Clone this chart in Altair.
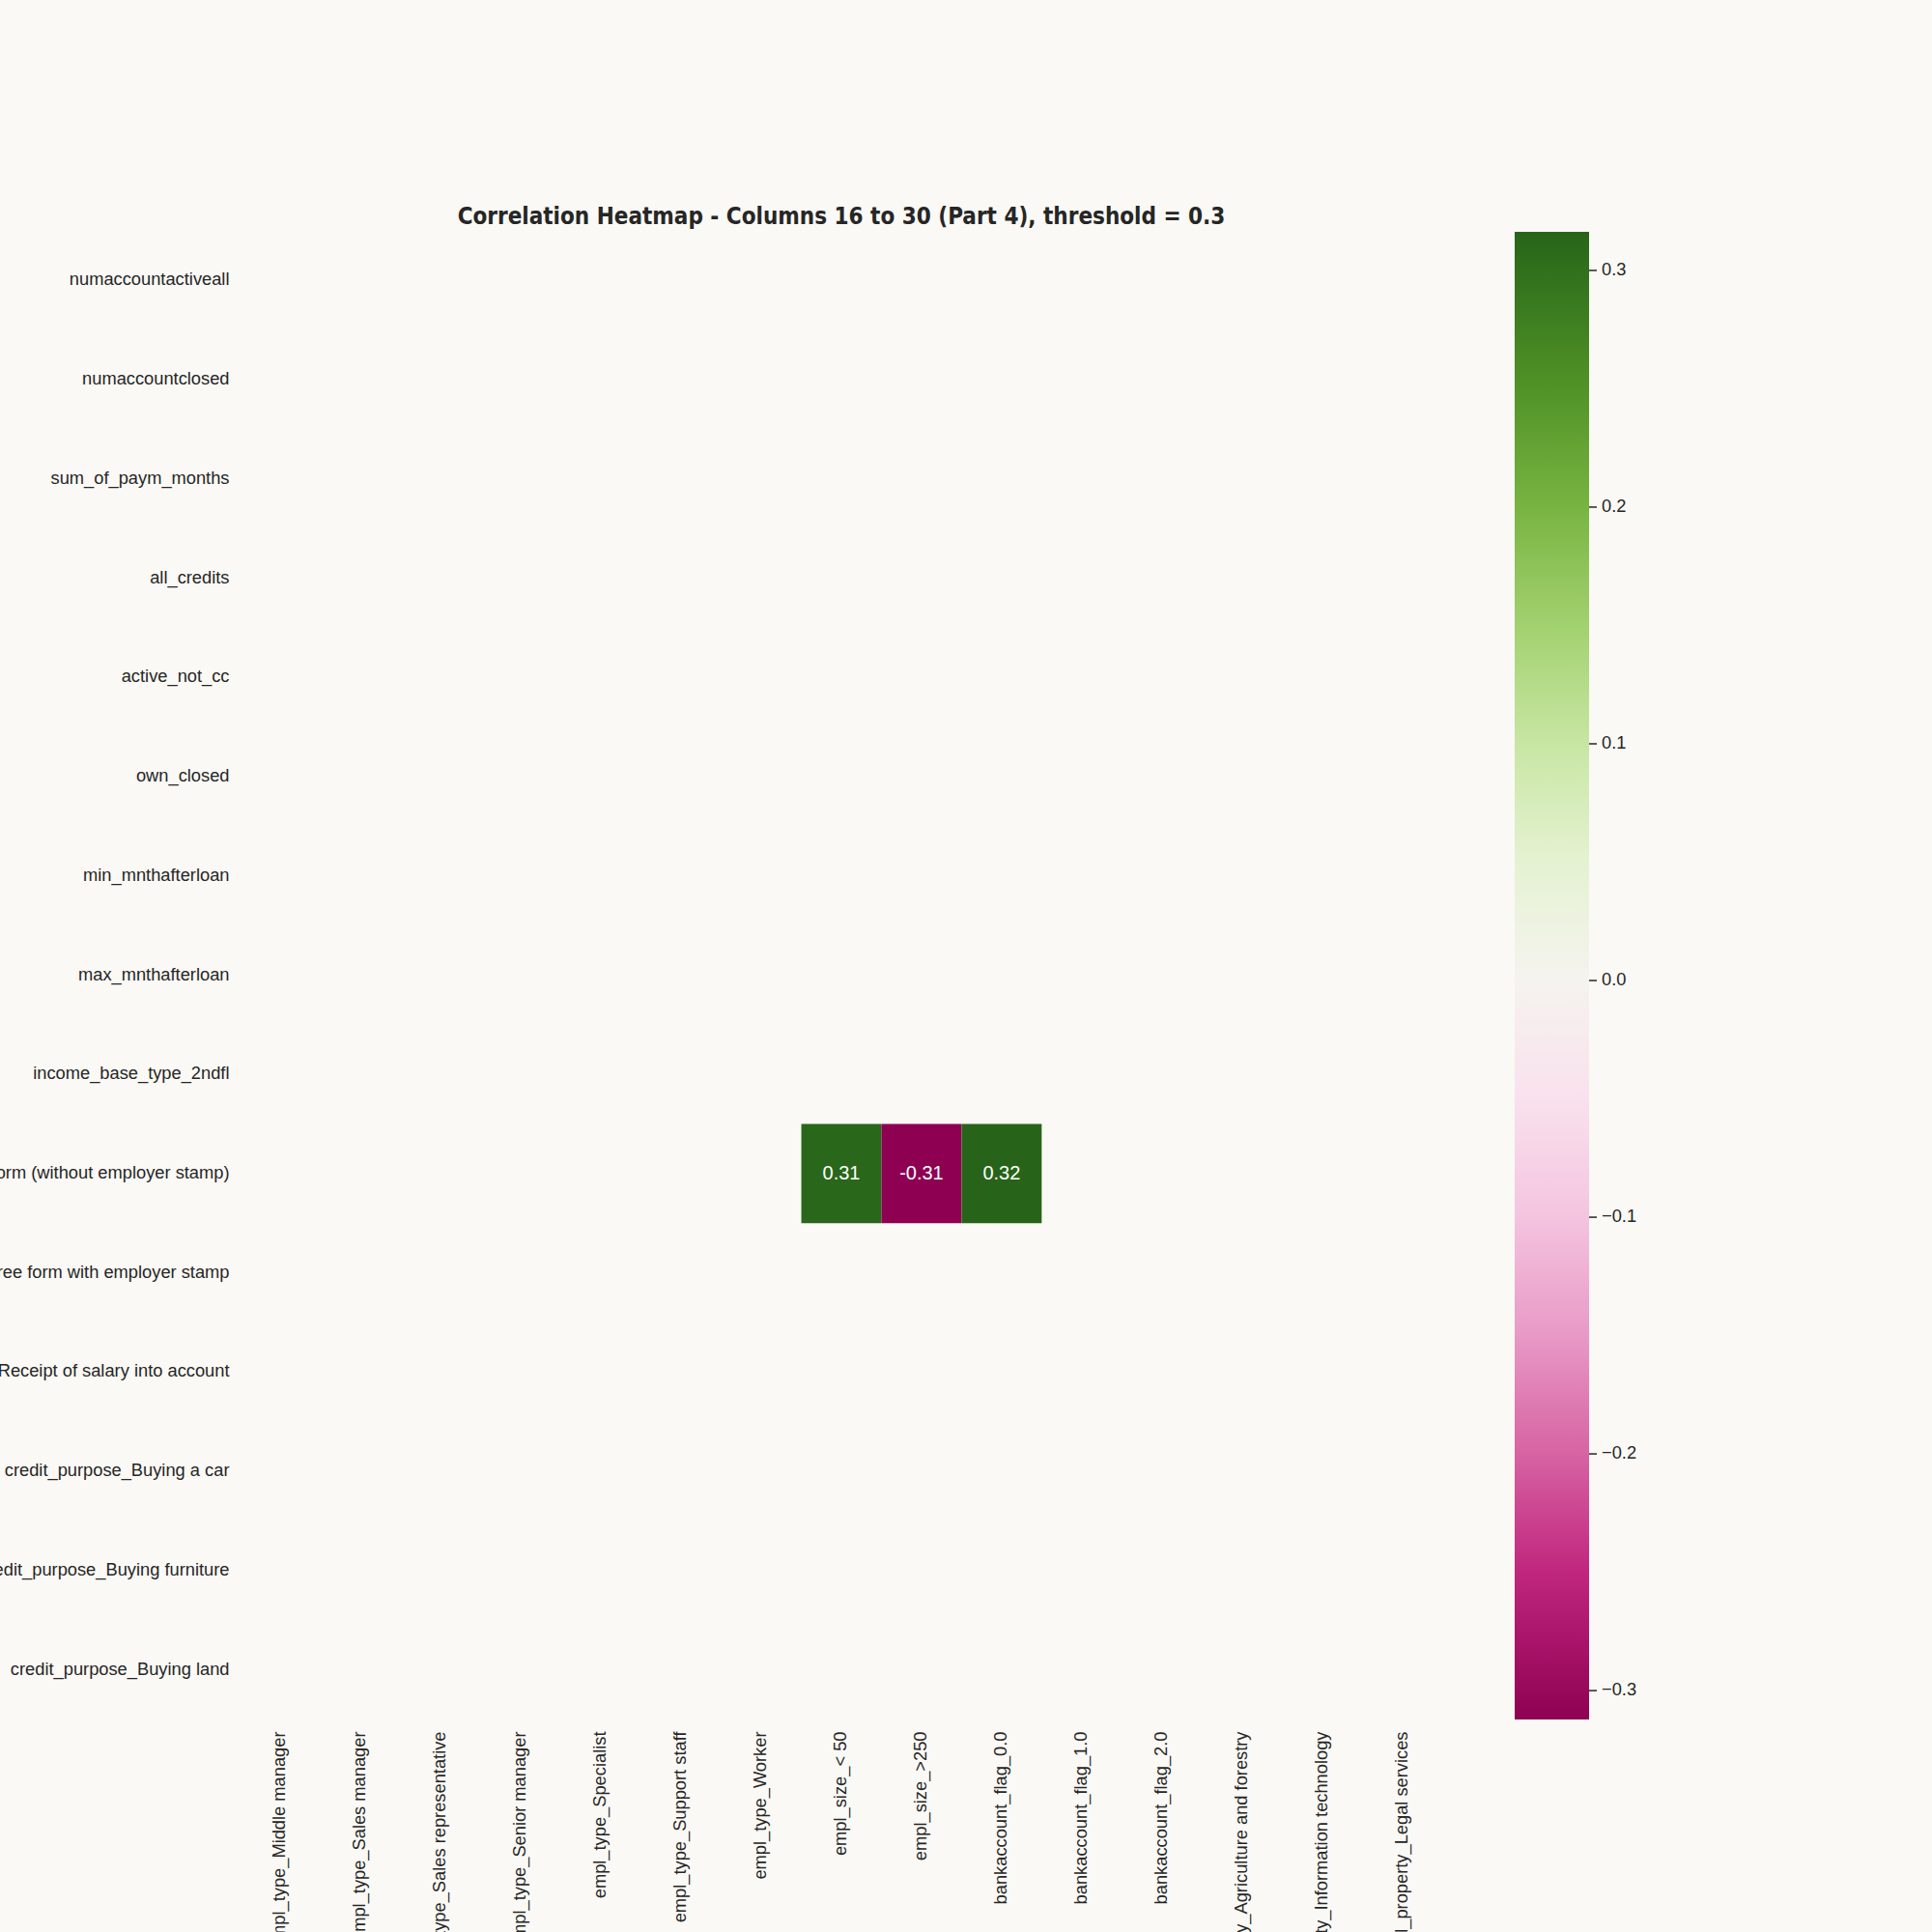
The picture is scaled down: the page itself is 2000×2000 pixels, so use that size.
import altair as alt
import pandas as pd

rows = ["numaccountactiveall", "numaccountclosed", "sum_of_paym_months", "all_credits",
        "active_not_cc", "own_closed", "min_mnthafterloan", "max_mnthafterloan",
        "income_base_type_2ndfl", "income_base_type_Bank form (without employer stamp)",
        "income_base_type_Free form with employer stamp",
        "income_base_type_Receipt of salary into account",
        "credit_purpose_Buying a car", "credit_purpose_Buying furniture",
        "credit_purpose_Buying land"]

cols = ["empl_type_Middle manager", "empl_type_Sales manager", "empl_type_Sales representative",
        "empl_type_Senior manager", "empl_type_Specialist", "empl_type_Support staff",
        "empl_type_Worker", "empl_size_< 50", "empl_size_>250", "bankaccount_flag_0.0",
        "bankaccount_flag_1.0", "bankaccount_flag_2.0",
        "empl_property_Agriculture and forestry", "empl_property_Information technology",
        "empl_property_Legal services"]

# cells that pass the |r| >= 0.3 threshold
cell_rows = ["income_base_type_Bank form (without employer stamp)"] * 3
cell_cols = ["empl_size_< 50", "empl_size_>250", "bankaccount_flag_0.0"]
cell_values = [0.3125, -0.3122, 0.3163]

df = pd.DataFrame({"row": cell_rows, "col": cell_cols, "value": cell_values})
df["label"] = [f"{v:.2f}" for v in cell_values]

vmin, vmax = min(cell_values), max(cell_values)
legend_ticks = [-0.3, -0.2, -0.1, 0.0, 0.1, 0.2, 0.3]
ticks_df = pd.DataFrame({"t": legend_ticks})

FONT = "Liberation Sans"
TXT = "#262626"
W, H = 1244, 1541
CB_X, CB_Y, CB_W, CB_H = 1319, 1, 77, 1540

xenc = alt.X("col:N", scale=alt.Scale(domain=cols, paddingInner=0, paddingOuter=0),
             axis=alt.Axis(labelAngle=270, title=None))
yscale = alt.Scale(domain=rows, paddingInner=0, paddingOuter=0)

rect = alt.Chart(df).mark_rect().encode(
    x=xenc,
    y=alt.Y("row:N", scale=yscale, axis=alt.Axis(title=None)),
    color=alt.Color(
        "value:Q",
        scale=alt.Scale(scheme="pinkyellowgreen", domain=[vmin, vmax], domainMid=0),
        legend=alt.Legend(
            orient="none", legendX=CB_X, legendY=CB_Y, direction="vertical",
            gradientLength=CB_H, gradientThickness=CB_W, title=None,
            values=legend_ticks, format=".1f", labelFont=FONT, labelFontSize=18.3,
            labelColor=TXT, labelOffset=13, gradientStrokeWidth=0, padding=0,
        ),
    )
)

text = alt.Chart(df).mark_text(color="white", font=FONT, fontSize=20).encode(
    x=xenc,
    y=alt.Y("row:N", scale=yscale, axis=None),
    text="label:N",
)

# colorbar tick marks
cb_ticks = alt.Chart(ticks_df).mark_rule(color=TXT, strokeWidth=1.5).encode(
    y=alt.Y("t:Q", scale=alt.Scale(domain=[vmin, vmax], range=[CB_Y + CB_H, CB_Y], zero=False, nice=False),
            axis=None),
    x=alt.value(CB_X + CB_W),
    x2=alt.value(CB_X + CB_W + 8),
)

chart = alt.layer(rect, text, cb_ticks).resolve_scale(y="independent").properties(
    width=W, height=H,
    title=alt.Title("Correlation Heatmap - Columns 16 to 30 (Part 4), threshold = 0.3",
                    anchor="middle", frame="group", font="DejaVu Sans Condensed",
                    fontSize=24, fontWeight="bold", color=TXT, baseline="alphabetic",
                    offset=-17),
    padding={"left": 249, "top": 239, "right": 507, "bottom": 220},
    autosize=alt.AutoSizeParams(type="none"),
    background="#faf9f5",
).configure_view(stroke=None).configure_axis(
    labelFont=FONT, labelFontSize=18.3, labelColor=TXT, ticks=False, domain=False,
    labelLimit=2000, labelPadding=12, grid=False
)

chart.save("out.html", embed_options={"renderer": "svg", "actions": False})
